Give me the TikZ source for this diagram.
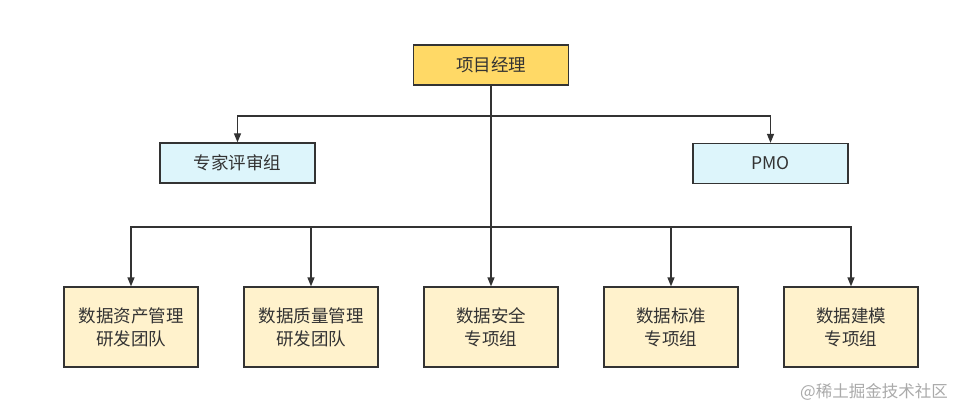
\documentclass[tikz,border=0pt]{standalone}
\usepackage{fontspec}
\setmainfont{Noto Sans CJK SC}
\usetikzlibrary{arrows.meta}
\definecolor{linec}{HTML}{333333}
\definecolor{topfill}{HTML}{FFD966}
\definecolor{bluefill}{HTML}{DDF5FB}
\definecolor{tanfill}{HTML}{FFF2CC}
\definecolor{wmark}{HTML}{AAAAAA}
\tikzset{
  box/.style={draw=linec, line width=1.3pt, minimum width=155pt, minimum height=40pt, inner sep=0pt,
    font=\fontsize{17.5}{21}\selectfont, text=linec},
  topbox/.style={box, fill=topfill},
  bluebox/.style={box, fill=bluefill},
  tanbox/.style={box, fill=tanfill, minimum width=134pt, minimum height=80pt, align=center,
    font=\fontsize{17.5}{23}\selectfont},
  conn/.style={draw=linec, line width=1.3pt, -{Triangle[length=9pt,width=7pt]}}
}
\begin{document}
\begin{tikzpicture}[x=1pt,y=-1pt]
\useasboundingbox (0,0) rectangle (961,409);
\fill[white] (0,0) rectangle (961,409);
\node[topbox] (pm) at (491,65) {项目经理};
\node[bluebox] (exp) at (237.5,163) {专家评审组};
\node[bluebox] (pmo) at (770.5,163.5) {PMO};
\node[tanbox] (b1) at (131,327) {数据资产管理\\研发团队};
\node[tanbox] (b2) at (311,327) {数据质量管理\\研发团队};
\node[tanbox] (b3) at (491,327) {数据安全\\专项组};
\node[tanbox] (b4) at (671,327) {数据标准\\专项组};
\node[tanbox] (b5) at (851,327) {数据建模\\专项组};
\coordinate (t1) at (491,116);
\coordinate (t2) at (491,227);
\draw[conn] (pm.south) -- (t1) -| (exp.north);
\draw[conn] (t1) -| (pmo.north);
\draw[conn] (t1) -- (b3.north);
\draw[conn] (t2) -| (b1.north);
\draw[conn] (t2) -| (b2.north);
\draw[conn] (t2) -| (b4.north);
\draw[conn] (t2) -| (b5.north);
\node[text=wmark, font=\fontsize{16.5}{18}\selectfont] (wm) at (874,392) {@稀土掘金技术社区};
\end{tikzpicture}
\end{document}
